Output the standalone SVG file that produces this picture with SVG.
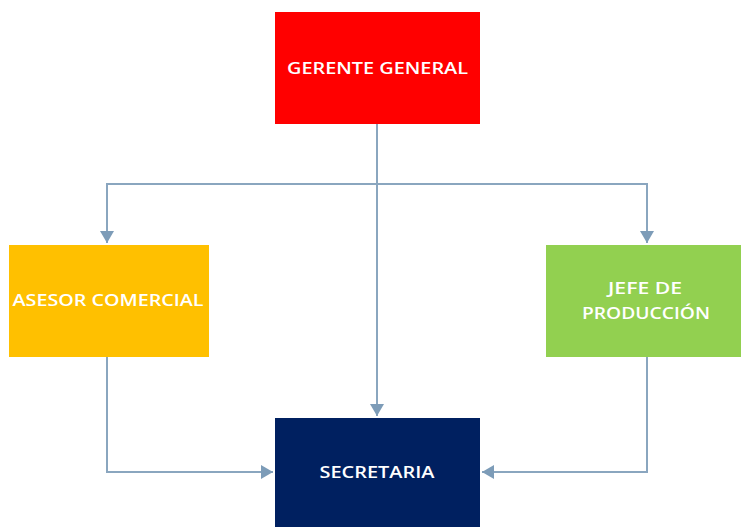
<svg xmlns="http://www.w3.org/2000/svg" width="741" height="527" viewBox="0 0 741 527">
  <style>
    .lbl { font-family: "Open Sans", "Liberation Sans", sans-serif; font-size: 16px; font-weight: 600; fill: #ffffff; text-anchor: middle; dominant-baseline: central; }
    .wire { fill: none; stroke: #8aa6bf; stroke-width: 2; }
  </style>
  <defs>
    <marker id="tip" viewBox="0 0 12 14" refX="12" refY="7" markerWidth="12" markerHeight="14" markerUnits="userSpaceOnUse" orient="auto">
      <path d="M0,0 L12,7 L0,14 Z" fill="#7d9cb8"/>
    </marker>
  </defs>
  <rect width="741" height="527" fill="#ffffff"/>

  <g id="connectors">
    <path class="wire" d="M377,124 V184 H107 V243" marker-end="url(#tip)"/>
    <path class="wire" d="M377,184 H647 V243" marker-end="url(#tip)"/>
    <path class="wire" d="M377,124 V416" marker-end="url(#tip)"/>
    <path class="wire" d="M107,357 V472 H273" marker-end="url(#tip)"/>
    <path class="wire" d="M647,357 V472 H482" marker-end="url(#tip)"/>
  </g>

  <g id="gerente">
    <rect x="275" y="12" width="205" height="112" fill="#ff0000"/>
    <text class="lbl" x="377.5" y="68" textLength="181" lengthAdjust="spacingAndGlyphs">GERENTE GENERAL</text>
  </g>

  <g id="asesor">
    <rect x="9" y="245" width="200" height="112" fill="#ffc000"/>
    <text class="lbl" x="108" y="300" textLength="191" lengthAdjust="spacingAndGlyphs">ASESOR COMERCIAL</text>
  </g>

  <g id="jefe">
    <rect x="546" y="245" width="200" height="112" fill="#92d050"/>
    <text class="lbl" x="645" y="288" textLength="74" lengthAdjust="spacingAndGlyphs">JEFE DE</text>
    <text class="lbl" x="646" y="313" textLength="128" lengthAdjust="spacingAndGlyphs">PRODUCCIÓN</text>
  </g>

  <g id="secretaria">
    <rect x="275" y="418" width="205" height="115" fill="#002060"/>
    <text class="lbl" x="377" y="472" textLength="115" lengthAdjust="spacingAndGlyphs">SECRETARIA</text>
  </g>
</svg>
